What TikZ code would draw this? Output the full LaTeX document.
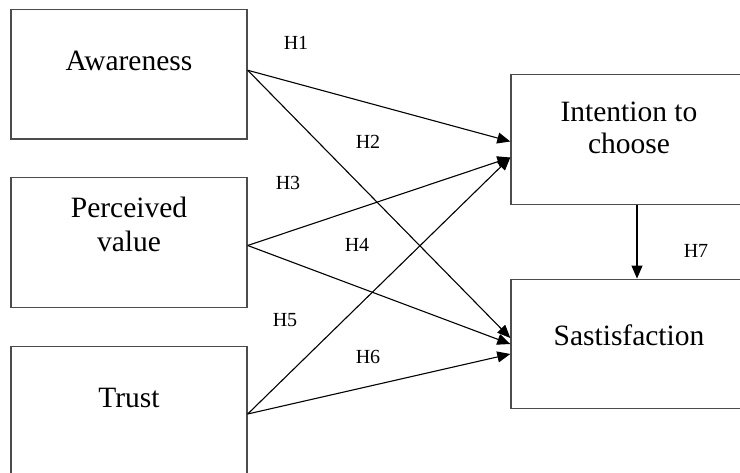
\documentclass[tikz,border=0pt]{standalone}
\usepackage{fontspec}
\setmainfont{Liberation Serif}
\usetikzlibrary{positioning, arrows.meta, calc}

\begin{document}
\begin{tikzpicture}[x=1pt, y=-1pt, >={Triangle[length=13pt, width=11pt]},
    box/.style={draw=black!70, line width=1.4pt, minimum width=236pt,
                minimum height=129.5pt, align=center, text height=19pt,
                font=\fontsize{29.5}{34}\selectfont},
    hyp/.style={font=\fontsize{20}{23}\selectfont},
    link/.style={->, line width=1.1pt}]
    \useasboundingbox (0,0) rectangle (740,473);
    \clip (0,0) rectangle (740,473);
    % left constructs
    \node[box, text depth=27pt] (aware) at (129,74.25) {Awareness};
    \node[box] (value) at (129,242.5) {Perceived\\value};
    \node[box, text depth=25pt] (trust) at (129,411) {Trust};
    % right constructs
    \node[box, text height=29pt] (choose) at (629,139.5)
      {Intention to\\[-2pt]choose};
    \node[box, text depth=15pt] (satis) at (629,344) {Sastisfaction};
    % hypotheses
    \draw[link] ([yshift=4pt]aware.east) -- ([yshift=-2pt]choose.west);
    \draw[link] ([yshift=4pt]aware.east) -- ([yshift=6pt]satis.west);
    \draw[link] ([yshift=-3pt]value.east) -- ([yshift=-18pt]choose.west);
    \draw[link] ([yshift=-3pt]value.east) -- (satis.west);
    \draw[link] ([yshift=-3pt]trust.east) -- ([yshift=-18pt]choose.west);
    \draw[link] ([yshift=-3pt]trust.east) -- ([yshift=-10pt]satis.west);
    \draw[link] ([xshift=8pt]choose.south) -- ([xshift=8pt]satis.north);
    \node[hyp] (h1) at (296,43) {H1};
    \node[hyp] (h2) at (368,142) {H2};
    \node[hyp] (h3) at (288,183) {H3};
    \node[hyp] (h4) at (357,245) {H4};
    \node[hyp] (h5) at (285,320) {H5};
    \node[hyp] (h6) at (368,357) {H6};
    \node[hyp] (h7) at (696,251) {H7};
\end{tikzpicture}
\end{document}
